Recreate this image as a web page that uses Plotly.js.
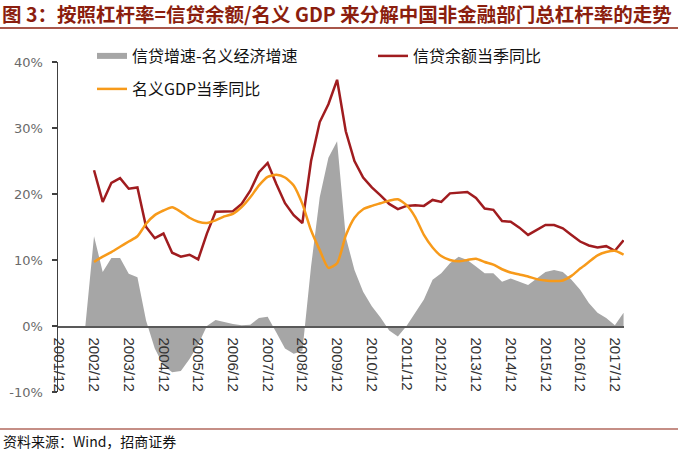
<!DOCTYPE html>
<html>
<head>
<meta charset="utf-8">
<script src="https://cdn.plot.ly/plotly-3.0.1.min.js"></script>
<style>html,body{margin:0;padding:0;background:#fff;}#chart{width:678px;height:454px;}</style>
</head>
<body>
<div id="chart"></div>
<script>
// Quarterly categories, 2001/12 .. 2018/3
const quarters = [
  "2001/12",
  "2002/3","2002/6","2002/9","2002/12",
  "2003/3","2003/6","2003/9","2003/12",
  "2004/3","2004/6","2004/9","2004/12",
  "2005/3","2005/6","2005/9","2005/12",
  "2006/3","2006/6","2006/9","2006/12",
  "2007/3","2007/6","2007/9","2007/12",
  "2008/3","2008/6","2008/9","2008/12",
  "2009/3","2009/6","2009/9","2009/12",
  "2010/3","2010/6","2010/9","2010/12",
  "2011/3","2011/6","2011/9","2011/12",
  "2012/3","2012/6","2012/9","2012/12",
  "2013/3","2013/6","2013/9","2013/12",
  "2014/3","2014/6","2014/9","2014/12",
  "2015/3","2015/6","2015/9","2015/12",
  "2016/3","2016/6","2016/9","2016/12",
  "2017/3","2017/6","2017/9","2017/12",
  "2018/3"
];

// 信贷增速-名义经济增速 (%)
const creditMinusGdp = [
  null,
  null, null, 0, 13.6,
  8.2, 10.3, 10.3, 7.9,
  7.4, 0.8, -3.4, -6,
  -7, -6.8, -5, -2.8,
  0, 0.9, 0.6, 0.3,
  0.1, 0.2, 1.2, 1.4,
  -1, -3.4, -4.2, -3.8,
  9, 19.5, 25.5, 28,
  13.5, 8.5, 5.2, 3,
  1.3, -0.7, -1.6, 0,
  2, 4, 7, 8,
  9.5, 10.5, 10, 9,
  8, 8, 6.7, 7.2,
  6.7, 6.2, 7.2, 8.2,
  8.5, 8.2, 7, 5.5,
  3.5, 2, 1.2, 0.1,
  2
];

// 信贷余额当季同比 (%)
const creditYoY = [
  null,
  null, null, null, 23.6,
  18.8, 21.7, 22.4, 20.8,
  21, 15, 13.3, 14,
  11.1, 10.5, 10.8, 10.1,
  14, 17.3, 17.3, 17.4,
  18.5, 20.5, 23.3, 24.7,
  21.5, 18.6, 16.8, 15.6,
  25, 30.9, 33.6, 37.3,
  29.5, 25, 22.5, 21,
  19.8, 18.5, 17.7, 18.2,
  18.3, 18.2, 19.1, 18.8,
  20.1, 20.2, 20.3, 19.4,
  17.8, 17.6, 15.9, 15.8,
  14.9, 13.8, 14.5, 15.3,
  15.3, 14.8, 13.8, 12.8,
  12.2, 11.9, 12.1, 11.4,
  13
];

// 名义GDP当季同比 (%)
const gdpYoY = [
  null,
  null, null, null, 9.7,
  10.5, 11.2, 12, 12.8,
  13.6, 15.5, 16.8, 17.5,
  18, 17.3, 16.4, 15.8,
  15.6, 16, 16.6, 17,
  18, 19.5, 21.3, 22.6,
  22.9, 22.5, 21.3, 18.5,
  14.5, 11.5, 8.8, 9.5,
  13.7, 16.4, 17.7, 18.2,
  18.6, 19, 19.2, 18.3,
  16.5, 13.8, 11.9, 10.6,
  10, 9.8, 10, 10.2,
  9.7, 9.3, 8.6, 8.1,
  7.8, 7.5, 7.1, 6.9,
  6.8, 6.9, 7.6, 8.7,
  9.7, 10.7, 11.2, 11.4,
  10.8
];

const xTickLabels = ["2001/12","2002/12","2003/12","2004/12","2005/12","2006/12","2007/12","2008/12","2009/12","2010/12","2011/12","2012/12","2013/12","2014/12","2015/12","2016/12","2017/12"];
const yTickVals = [-10, 0, 10, 20, 30, 40];
const yTickText = ["-10%", "0%", "10%", "20%", "30%", "40%"];

const seriesNames = ["信贷增速-名义经济增速", "信贷余额当季同比", "名义GDP当季同比"];
const titleText = "图 3：按照杠杆率=信贷余额/名义 GDP 来分解中国非金融部门总杠杆率的走势";
const sourceText = "资料来源：Wind，招商证券";

// layout geometry (pixels)
const W = 678, H = 454;
const M = {l: 58, r: 54, t: 62, b: 62};
const plotW = W - M.l - M.r, plotH = H - M.t - M.b;
const px2x = p => (p - M.l) / plotW;
const py2y = p => (H - M.b - p) / plotH;

const cjk = '"Noto Sans CJK SC", "Noto Sans", sans-serif';

const traces = [
  {
    x: quarters, y: creditMinusGdp, type: 'scatter', mode: 'none',
    fill: 'tozeroy', fillcolor: '#A6A6A6', name: seriesNames[0],
    legend: 'legend', connectgaps: false, hoverinfo: 'skip'
  },
  {
    x: quarters, y: creditYoY, type: 'scatter', mode: 'lines',
    line: {color: '#A01C1F', width: 2.5}, name: seriesNames[1], legend: 'legend3'
  },
  {
    x: quarters, y: gdpYoY, type: 'scatter', mode: 'lines',
    line: {color: '#F79A1A', width: 2.5, shape: 'spline', smoothing: 0.6},
    name: seriesNames[2], legend: 'legend2'
  }
];

const legendBase = {
  orientation: 'h', xref: 'paper', yref: 'paper', xanchor: 'left', yanchor: 'top',
  font: {family: cjk, size: 16, color: '#111'},
  bgcolor: 'rgba(0,0,0,0)', borderwidth: 0
};

const layout = {
  width: W, height: H,
  margin: M,
  paper_bgcolor: '#fff', plot_bgcolor: '#fff',
  showlegend: true,
  title: {
    text: '<b>' + titleText + '</b>',
    font: {family: cjk, size: 19.5, color: '#8B1E0E'},
    xref: 'container', yref: 'container',
    x: 0.003, xanchor: 'left', y: 1 - 15 / H, yanchor: 'middle'
  },
  xaxis: {
    type: 'category',
    range: [-0.15, 65.05],
    anchor: 'free', position: 0.2,
    showline: true, linecolor: '#595959', linewidth: 1.5,
    showgrid: false, zeroline: false,
    ticks: '', tickvals: xTickLabels, ticktext: xTickLabels,
    tickangle: 90, ticklabelstandoff: 7,
    tickfont: {family: 'Liberation Sans, Arial, sans-serif', size: 15, color: '#333'}
  },
  yaxis: {
    range: [-10, 40],
    tickvals: yTickVals, ticktext: yTickText,
    showline: true, linecolor: '#404040', linewidth: 1.5,
    ticks: 'outside', ticklen: 5, tickcolor: '#404040', tickwidth: 1.5,
    ticklabelstandoff: 6,
    showgrid: false, zeroline: false,
    tickfont: {family: 'DejaVu Sans, sans-serif', size: 13, color: '#6a6a6a'}
  },
  legend: Object.assign({}, legendBase, {x: px2x(92), y: py2y(39)}),
  legend3: Object.assign({}, legendBase, {x: px2x(373), y: py2y(39)}),
  legend2: Object.assign({}, legendBase, {x: px2x(92), y: py2y(72)}),
  shapes: [
    {type: 'line', xref: 'paper', yref: 'paper', x0: px2x(0), x1: px2x(W), y0: py2y(28), y1: py2y(28),
     line: {color: '#8B1E0E', width: 1.5}},
    {type: 'line', xref: 'paper', yref: 'paper', x0: px2x(0), x1: px2x(W), y0: py2y(429), y1: py2y(429),
     line: {color: '#8B1E0E', width: 1.2}}
  ],
  annotations: [
    {text: sourceText, xref: 'paper', yref: 'paper', x: px2x(1), xanchor: 'left',
     y: py2y(441), yanchor: 'middle', showarrow: false,
     font: {family: cjk, size: 14, color: '#111'}}
  ]
};

Plotly.newPlot('chart', traces, layout, {displayModeBar: false, staticPlot: true});
</script>
</body>
</html>
